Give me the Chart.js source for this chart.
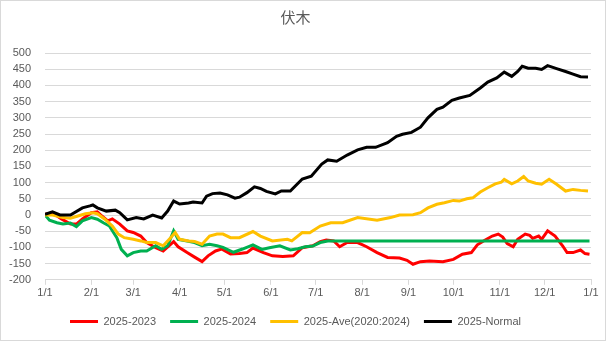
<!DOCTYPE html>
<html>
<head>
<meta charset="utf-8">
<script src="https://cdn.jsdelivr.net/npm/chart.js@4/dist/chart.umd.min.js"></script>
<style>
  html, body { margin: 0; padding: 0; background: #fff; }
  #wrap { position: relative; width: 606px; height: 341px; }
  #frame { position: absolute; left: 0; top: 0; width: 606px; height: 341px; box-sizing: border-box; border: 1px solid #d9d9d9; pointer-events: none; }
  canvas { display: block; }
</style>
</head>
<body>
<div id="wrap"><canvas id="chart" width="606" height="341"></canvas><div id="frame"></div></div>
<script>
// 月初の日番号と目盛ラベル
const monthDays = [0, 31, 59, 90, 120, 151, 181, 212, 243, 273, 304, 334, 365];
const monthLabels = ['1/1', '2/1', '3/1', '4/1', '5/1', '6/1', '7/1', '8/1', '9/1', '10/1', '11/1', '12/1', '1/1'];

// 2025-2023
const redDays = [0, 5, 11, 17, 21, 25, 31, 35, 38, 42, 45, 50, 55, 59, 64, 68, 74, 79, 86, 89, 95, 100, 105, 109, 114, 118, 124, 130, 135, 139, 146, 152, 159, 166, 172, 179, 184, 188, 193, 197, 202, 209, 215, 222, 229, 237, 242, 246, 251, 257, 266, 273, 279, 285, 289, 294, 299, 303, 306, 309, 313, 316, 321, 324, 326, 330, 332, 336, 341, 346, 349, 353, 358, 361, 364];
const redVals = [2, 7, -12, -28, -28, -12, 7, 10, -3, -18, -12, -28, -49, -54, -65, -85, -101, -111, -82, -98, -116, -130, -144, -126, -111, -105, -120, -119, -116, -102, -116, -126, -128, -126, -101, -95, -82, -77, -80, -98, -85, -85, -98, -116, -131, -133, -140, -152, -144, -142, -144, -137, -121, -116, -92, -78, -65, -59, -68, -88, -98, -75, -59, -63, -72, -65, -75, -49, -65, -95, -116, -116, -108, -119, -121];

// 2025-2024
const greenDays = [0, 3, 8, 12, 17, 21, 25, 31, 35, 39, 43, 48, 51, 55, 59, 64, 68, 74, 78, 82, 86, 89, 95, 100, 105, 110, 115, 119, 126, 132, 139, 145, 150, 157, 164, 169, 174, 179, 184, 189, 364];
const greenVals = [0, -16, -24, -28, -25, -36, -18, -8, -13, -24, -34, -70, -106, -126, -116, -111, -111, -95, -106, -95, -49, -75, -80, -85, -95, -90, -95, -100, -115, -105, -92, -106, -101, -95, -108, -104, -98, -96, -85, -80, -80];

// 2025-Ave(2020:2024)
const yellowDays = [0, 5, 12, 17, 22, 27, 32, 35, 40, 45, 49, 53, 59, 64, 68, 74, 79, 84, 87, 90, 96, 100, 105, 110, 115, 119, 124, 130, 139, 144, 152, 162, 165, 172, 177, 184, 191, 199, 209, 222, 231, 237, 246, 251, 256, 262, 267, 273, 277, 282, 286, 291, 296, 301, 305, 307, 312, 316, 320, 323, 328, 332, 337, 342, 348, 353, 358, 363];
const yellowVals = [0, 0, -8, -10, -3, 4, 7, 4, -13, -34, -59, -70, -75, -80, -85, -85, -95, -70, -54, -75, -80, -82, -90, -65, -59, -59, -70, -70, -51, -65, -80, -75, -80, -54, -55, -34, -24, -24, -8, -16, -8, 0, 1, 7, 22, 33, 38, 45, 43, 50, 53, 71, 84, 96, 101, 110, 96, 105, 119, 105, 98, 95, 110, 95, 74, 79, 76, 74];

// 2025-Normal
const blackDays = [0, 5, 10, 17, 25, 30, 32, 35, 41, 47, 50, 55, 61, 66, 72, 78, 82, 86, 90, 96, 99, 105, 108, 112, 117, 122, 127, 130, 135, 140, 144, 148, 154, 158, 164, 172, 178, 185, 189, 195, 202, 209, 215, 221, 229, 235, 239, 245, 251, 256, 262, 266, 272, 277, 284, 291, 296, 302, 307, 312, 316, 319, 323, 328, 332, 336, 342, 348, 353, 358, 363];
const blackVals = [2, 10, 0, 0, 22, 28, 31, 22, 12, 15, 7, -15, -8, -12, 0, -9, 12, 43, 34, 37, 40, 37, 58, 66, 68, 62, 52, 55, 69, 87, 82, 73, 65, 74, 74, 111, 120, 157, 170, 166, 185, 201, 209, 209, 223, 243, 249, 255, 271, 300, 326, 333, 354, 361, 369, 392, 410, 423, 441, 428, 443, 459, 453, 453, 449, 461, 452, 443, 435, 427, 426];

const yTicks = [-200, -150, -100, -50, 0, 50, 100, 150, 200, 250, 300, 350, 400, 450, 500];

function pts(days, vals) {
    return days.map((d, i) => ({ x: d, y: vals[i] }));
}

const textColor = '#595959';
const gridColor = '#d9d9d9';

function series(label, days, vals, color, order) {
    return {
        label: label,
        data: pts(days, vals),
        borderColor: color,
        backgroundColor: color,
        borderWidth: 3,
        pointRadius: 0,
        tension: 0,
        order: order
    };
}

const ctx = document.getElementById('chart').getContext('2d');
new Chart(ctx, {
    type: 'line',
    data: {
        datasets: [
            series('2025-2023', redDays, redVals, '#ff0000', 3),
            series('2025-2024', greenDays, greenVals, '#00b050', 2),
            series('2025-Ave(2020:2024)', yellowDays, yellowVals, '#ffc000', 1),
            series('2025-Normal', blackDays, blackVals, '#000000', 0)
        ]
    },
    options: {
        responsive: false,
        animation: false,
        layout: { padding: { left: 0, right: 15, top: 0, bottom: 4 } },
        plugins: {
            title: {
                display: true,
                text: '伏木',
                color: textColor,
                font: { family: '"Noto Sans CJK JP", sans-serif', size: 15, weight: 'normal' },
                padding: { top: 8, bottom: 27 }
            },
            legend: {
                position: 'bottom',
                labels: {
                    usePointStyle: true,
                    pointStyle: 'line',
                    pointStyleWidth: 28,
                    color: textColor,
                    padding: 14,
                    font: { family: '"Liberation Sans", sans-serif', size: 11 },
                    sort: (a, b) => a.datasetIndex - b.datasetIndex
                }
            },
            tooltip: { enabled: false }
        },
        scales: {
            x: {
                type: 'linear',
                min: 0,
                max: 365,
                afterBuildTicks: s => { s.ticks = monthDays.map(v => ({ value: v })); },
                ticks: {
                    autoSkip: false,
                    maxRotation: 0,
                    color: textColor,
                    padding: 2,
                    font: { family: '"Liberation Sans", sans-serif', size: 11 },
                    callback: (v, i) => monthLabels[i]
                },
                grid: { drawOnChartArea: false, drawTicks: true, tickLength: 5, color: gridColor },
                border: { display: true, color: gridColor }
            },
            y: {
                min: -200,
                max: 500,
                afterBuildTicks: s => { s.ticks = yTicks.map(v => ({ value: v })); },
                afterFit: s => { s.width = 45; },
                ticks: {
                    autoSkip: false,
                    color: textColor,
                    padding: 14,
                    font: { family: '"Liberation Sans", sans-serif', size: 11 }
                },
                grid: { drawTicks: false, color: gridColor },
                border: { display: false }
            }
        }
    }
});
</script>
</body>
</html>
